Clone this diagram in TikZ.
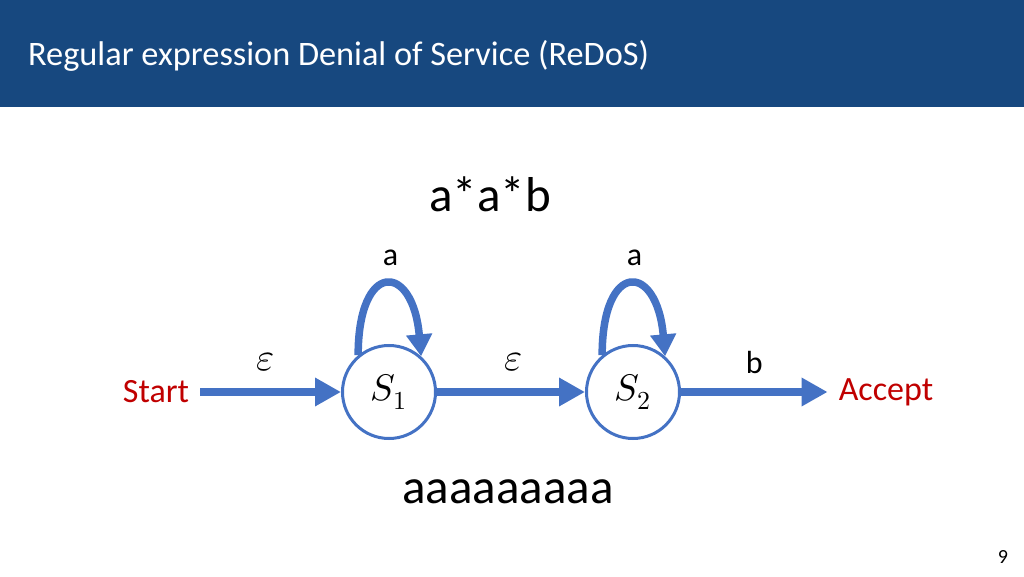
\documentclass[tikz,border=0pt]{standalone}
\usepackage{fontspec}
\usepackage{unicode-math}
\setmainfont{Carlito}
\setmathfont{Latin Modern Math}
\usetikzlibrary{positioning, arrows.meta}

\definecolor{cabecera}{HTML}{17487F}
\definecolor{azul}{HTML}{4472C4}
\definecolor{rojo}{HTML}{C00000}

\begin{document}
\begin{tikzpicture}[x=1pt, y=1pt,
		estado/.style={circle, draw=azul, line width=3pt, fill=white, minimum size=93pt, inner sep=0pt, font=\fontsize{37}{37}\selectfont},
		flecha/.style={draw=azul, line width=8pt, -{Triangle[length=26pt, width=27pt]}},
		bucle/.style={draw=azul, line width=7.5pt, -{Triangle[length=22pt, width=25pt]}},
		etiqueta/.style={font=\fontsize{32}{32}\selectfont},
		epsilon/.style={font=\fontsize{39}{39}\selectfont},
		extremo/.style={text=rojo, font=\fontsize{34}{34}\selectfont, inner xsep=11pt},
		grande/.style={font=\fontsize{49}{49}\selectfont, anchor=base}]
		
		% Parámetros (en px de la diapositiva)
		\def\Y{184}     % Altura del eje de estados
		\def\xA{389}    % Centro de S_1
		\def\xB{633}    % Centro de S_2
		
		\useasboundingbox (0,0) rectangle (1024,576);
		
		% --- 1. CABECERA ---
		\fill[cabecera] (0,469) rectangle (1024,576);
		\node[anchor=base west, text=white, inner sep=0pt, font=\fontsize{34.3}{34}\selectfont] (Titulo) at (28,510) {Regular expression Denial of Service (ReDoS)};
		
		% Expresión regular
		\node[grande] (Expresion) at (490,364) {a*a*b};
		
		% --- 2. ESTADOS ---
		\node[estado] (S1) at (\xA,\Y) {$S_1$};
		\node[estado] (S2) at (\xB,\Y) {$S_2$};
		\node[extremo] (Inicio) at (156,\Y) {Start};
		\node[extremo] (Acepta) at (886,\Y) {Accept};
		
		% --- 3. TRANSICIONES ---
		\draw[flecha] (Inicio) -- (S1) node[midway, xshift=-5pt, yshift=30pt, epsilon] {$\varepsilon$};
		\draw[flecha] (S1) -- (S2) node[midway, xshift=3pt, yshift=30pt, epsilon] {$\varepsilon$};
		\draw[flecha] (S2) -- (Acepta) node[midway, yshift=30pt, etiqueta] {b};
		
		% Bucles sobre cada estado
		\draw[bucle] (S1.130) .. controls +(90:95) and +(95:95) .. (S1.48) node[pos=0.5, xshift=4pt, yshift=27pt, etiqueta] {a};
		\draw[bucle] (S2.130) .. controls +(90:95) and +(95:95) .. (S2.48) node[pos=0.5, xshift=4pt, yshift=27pt, etiqueta] {a};
		
		% --- 4. CADENA DE ENTRADA ---
		\node[grande] (Cadena) at (508,73) {aaaaaaaaa};
		
		% Número de página
		\node[anchor=base, font=\fontsize{20}{20}\selectfont] (Pagina) at (1003,13) {9};
		
	\end{tikzpicture}
\end{document}
